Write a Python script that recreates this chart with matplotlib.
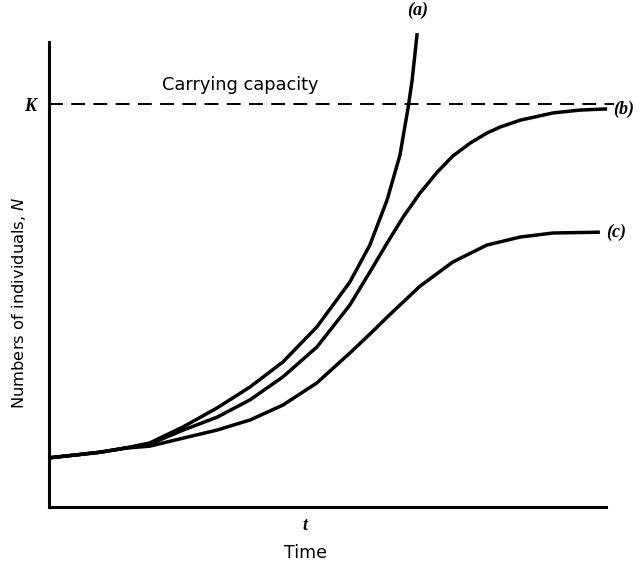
import matplotlib.pyplot as plt

plt.rcParams['lines.scale_dashes'] = False

# curve values (time 0..10, N with K = 100)
time_a = [0.0, 0.47, 0.92, 1.36, 1.81, 2.41, 3.02, 3.61, 4.20, 4.81, 5.40, 5.76, 6.07, 6.30, 6.45, 6.52, 6.61]
n_a = [12.2, 12.9, 13.6, 14.6, 15.9, 19.9, 24.6, 29.8, 36.0, 44.7, 55.8, 65.0, 76.2, 87.3, 99.3, 106.0, 117.6]

time_b = [0.0, 0.47, 0.92, 1.36, 1.81, 2.41, 3.02, 3.61, 4.20, 4.81, 5.40, 5.76, 6.07, 6.36,
          6.66, 6.97, 7.25, 7.56, 7.86, 8.10, 8.46, 9.05, 9.53, 10.02]
n_b = [12.2, 12.9, 13.6, 14.6, 15.6, 19.1, 22.3, 26.6, 32.3, 39.7, 50.1, 58.3, 65.5, 72.0,
       77.9, 83.1, 87.1, 90.3, 92.8, 94.3, 96.0, 97.8, 98.5, 98.8]

time_c = [0.0, 0.47, 0.92, 1.36, 1.81, 2.41, 3.02, 3.61, 4.20, 4.81, 5.40, 5.76, 6.07, 6.66,
          7.25, 7.86, 8.46, 9.05, 9.89]
n_c = [12.2, 12.9, 13.6, 14.6, 15.1, 17.1, 19.1, 21.6, 25.3, 30.8, 38.2, 42.9, 47.1, 54.8,
       60.8, 65.0, 67.0, 68.0, 68.2]

K = 100
t_mark = 4.6

fig = plt.figure(figsize=(6.39, 5.69), dpi=100)
ax = fig.add_axes([49 / 639, 62 / 569, 557 / 639, 465 / 569])
ax.set_xlim(0, 10)
ax.set_ylim(0, 115.4)

for tt, nn in [(time_a, n_a), (time_b, n_b), (time_c, n_c)]:
    ax.plot(tt, nn, color='black', lw=2.5, clip_on=False,
            solid_capstyle='butt', solid_joinstyle='round')

ax.plot([0, 10.15], [K, K], color='black', lw=1.4, dashes=(10, 6), clip_on=False)
ax.text(2.02, K + 2.6, 'Carrying capacity', fontsize=12.8, family='DejaVu Sans', va='bottom')

serif_it = dict(family='Liberation Serif', style='italic', fontweight='bold', fontsize=13)
ax.text(6.62, 121.2, '(a)', ha='center', va='bottom', clip_on=False, **serif_it)
ax.text(10.12, 98.8, '(b)', ha='left', va='center', clip_on=False, **serif_it)
ax.text(10.0, 68.2, '(c)', ha='left', va='center', clip_on=False, **serif_it)

for s in ['top', 'right']:
    ax.spines[s].set_visible(False)
for s in ['left', 'bottom']:
    ax.spines[s].set_linewidth(2.2)

ax.set_xticks([t_mark])
ax.set_xticklabels(['t'], fontdict=serif_it)
ax.set_yticks([K])
ax.set_yticklabels(['K'], fontdict=serif_it)
ax.tick_params(axis='x', length=0, pad=7)
ax.tick_params(axis='y', length=0, pad=9)

ax.set_xlabel('Time', fontsize=12.5)
ax.xaxis.set_label_coords(0.46, -0.08)
ax.set_ylabel('Numbers of individuals, $\\it{N}$', fontsize=11.8)
ax.yaxis.set_label_coords(-0.038, 0.44)

fig.savefig('out.png', dpi=100)
